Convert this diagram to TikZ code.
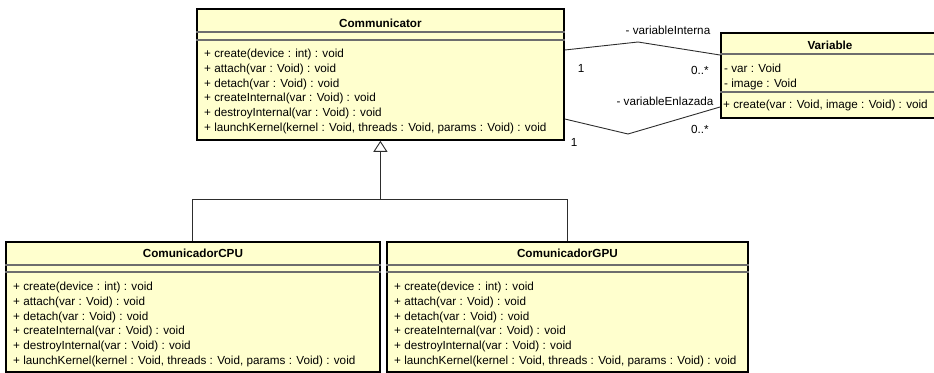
\documentclass[tikz,border=0pt]{standalone}
\usepackage{fontspec}
\setmainfont{Liberation Sans}
\usetikzlibrary{arrows.meta,calc}

\definecolor{umlfill}{RGB}{255,255,206}
\definecolor{umlsep}{RGB}{110,110,110}
\definecolor{umlline}{RGB}{45,45,45}

\newcommand{\umlfont}{\fontsize{11.7}{14.75}\selectfont}

\begin{document}
\begin{tikzpicture}[x=1pt, y=1pt, every node/.style={font=\umlfont},
	classbox/.style={draw=black, line width=1.8pt, fill=umlfill, inner sep=0pt, anchor=north west},
	classname/.style={font=\umlfont\bfseries, inner sep=0pt},
	compline/.style={draw=umlsep, line width=1.1pt},
	members/.style={anchor=north west, align=left, inner sep=0pt},
	assoc/.style={draw=umlline, line width=0.9pt},
	>={Triangle[open, length=11pt, width=14pt]}]
	\useasboundingbox (0,0) rectangle (934,-372);
	% classes
	\node[classbox, minimum width=367, minimum height=131] (comm) at (196,-8) {};
	\node[classname] (commname) at ($(comm.north)+(0,-15)$) {Communicator};
	\draw[compline] ($(comm.north west)+(0,-24)$) -- ($(comm.north east)+(0,-24)$);
	\draw[compline] ($(comm.north west)+(0,-32)$) -- ($(comm.north east)+(0,-32)$);
	\node[members] (commops) at ($(comm.north west)+(8,-41)$) {+ create(device : int) : void\\+ attach(var : Void) : void\\+ detach(var : Void) : void\\+ createInternal(var : Void) : void\\+ destroyInternal(var : Void) : void\\+ launchKernel(kernel : Void, threads : Void, params : Void) : void};

	\node[classbox, minimum width=216, minimum height=85] (var) at (720,-32) {};
	\node[classname] (varname) at ($(var.north west)+(110,-13)$) {Variable};
	\draw[compline] ($(var.north west)+(0,-22)$) -- ($(var.north east)+(0,-22)$);
	\draw[compline] ($(var.north west)+(0,-60)$) -- ($(var.north east)+(0,-60)$);
	\node[members] (varattrs) at ($(var.north west)+(4,-32)$) {- var : Void\\- image : Void};
	\node[members] (varops) at ($(var.north west)+(3,-68)$) {+ create(var : Void, image : Void) : void};

	\node[classbox, minimum width=374, minimum height=130] (cpu) at (5,-241) {};
	\node[classname] (cpuname) at ($(cpu.north)+(0,-12)$) {ComunicadorCPU};
	\draw[compline] ($(cpu.north west)+(0,-24)$) -- ($(cpu.north east)+(0,-24)$);
	\draw[compline] ($(cpu.north west)+(0,-31)$) -- ($(cpu.north east)+(0,-31)$);
	\node[members] (cpuops) at ($(cpu.north west)+(8,-41)$) {+ create(device : int) : void\\+ attach(var : Void) : void\\+ detach(var : Void) : void\\+ createInternal(var : Void) : void\\+ destroyInternal(var : Void) : void\\+ launchKernel(kernel : Void, threads : Void, params : Void) : void};

	\node[classbox, minimum width=361, minimum height=130] (gpu) at (386,-241) {};
	\node[classname] (gpuname) at ($(gpu.north)+(0,-12)$) {ComunicadorGPU};
	\draw[compline] ($(gpu.north west)+(0,-24)$) -- ($(gpu.north east)+(0,-24)$);
	\draw[compline] ($(gpu.north west)+(0,-31)$) -- ($(gpu.north east)+(0,-31)$);
	\node[members] (gpuops) at ($(gpu.north west)+(8,-41)$) {+ create(device : int) : void\\+ attach(var : Void) : void\\+ detach(var : Void) : void\\+ createInternal(var : Void) : void\\+ destroyInternal(var : Void) : void\\+ launchKernel(kernel : Void, threads : Void, params : Void) : void};

	% generalization
	\coordinate (fork) at ($(comm.south)+(0,-59)$);
	\draw[assoc] (cpu.north) |- (fork) -| (gpu.north);
	\draw[assoc, ->] (fork) -- (comm.south);

	% associations
	\coordinate (intA) at ($(comm.north east)+(0,-42)$);
	\coordinate (intB) at ($(var.north west)+(0,-23)$);
	\coordinate (enlA) at ($(comm.north east)+(0,-111)$);
	\coordinate (enlB) at ($(var.north west)+(0,-75)$);
	\draw[assoc] (intA) -- (638,-42) -- (intB);
	\draw[assoc] (enlA) -- (628,-134) -- (enlB);
	\node (intname) at (668,-30) {- variableInterna};
	\node (intone) at (581,-68) {1};
	\node (intmany) at (700,-70) {0..*};
	\node (enlname) at (665,-101) {- variableEnlazada};
	\node (enlone) at (574,-142) {1};
	\node (enlmany) at (700,-129) {0..*};
\end{tikzpicture}
\end{document}
